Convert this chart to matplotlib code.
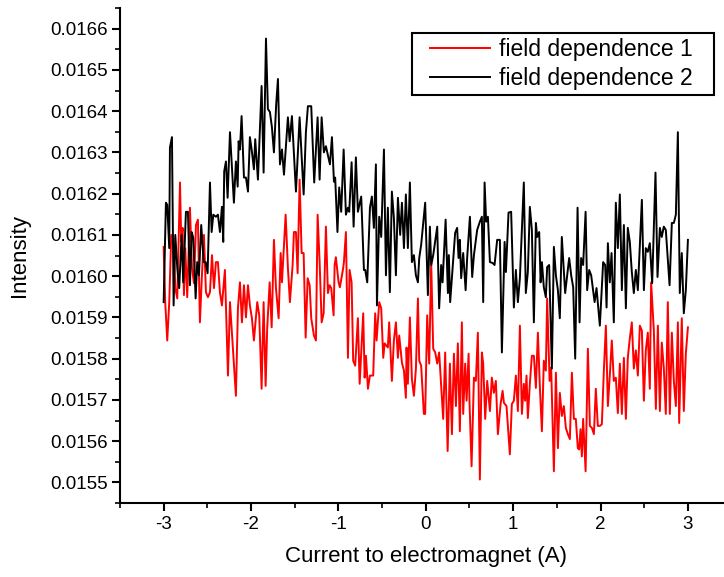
import matplotlib
matplotlib.use('Agg')
import matplotlib.pyplot as plt
import numpy as np
from matplotlib.patches import Rectangle
from matplotlib.ticker import MultipleLocator, FormatStrFormatter

plt.rcParams['font.family'] = ['Liberation Sans', 'DejaVu Sans']
plt.rcParams['axes.unicode_minus'] = False

# current to electromagnet (A) and intensity in units of 1e-4
current_1 = [
    -3.000, -2.982, -2.959, -2.936, -2.913, -2.890, -2.867, -2.844, -2.813, -2.799,
    -2.783, -2.768, -2.753, -2.730, -2.699, -2.676, -2.653, -2.630, -2.608, -2.585,
    -2.562, -2.539, -2.516, -2.493, -2.470, -2.447, -2.424, -2.402, -2.379, -2.356,
    -2.333, -2.299, -2.264, -2.241, -2.173, -2.150, -2.127, -2.104, -2.081, -2.058,
    -2.035, -2.013, -1.990, -1.967, -1.929, -1.906, -1.879, -1.856, -1.833, -1.815,
    -1.787, -1.764, -1.738, -1.715, -1.684, -1.661, -1.646, -1.604, -1.578, -1.555,
    -1.524, -1.509, -1.486, -1.467, -1.444, -1.421, -1.398, -1.375, -1.352, -1.329,
    -1.311, -1.280, -1.257, -1.238, -1.215, -1.192, -1.169, -1.143, -1.120, -1.101,
    -1.082, -1.055, -1.043, -1.029, -0.998, -0.983, -0.945, -0.937, -0.914, -0.891,
    -0.872, -0.849, -0.831, -0.808, -0.777, -0.757, -0.716, -0.700, -0.685, -0.662,
    -0.639, -0.602, -0.579, -0.563, -0.533, -0.510, -0.487, -0.471, -0.434, -0.419,
    -0.388, -0.365, -0.342, -0.319, -0.304, -0.273, -0.250, -0.228, -0.220, -0.205,
    -0.182, -0.159, -0.136, -0.113, -0.090, -0.075, -0.053, -0.022, -0.007, 0.016,
    0.039, 0.062, 0.085, 0.108, 0.131, 0.153, 0.199, 0.222, 0.250, 0.276,
    0.299, 0.322, 0.345, 0.367, 0.390, 0.413, 0.428, 0.451, 0.467, 0.490,
    0.501, 0.524, 0.551, 0.573, 0.596, 0.619, 0.642, 0.657, 0.680, 0.703,
    0.734, 0.756, 0.779, 0.802, 0.825, 0.856, 0.879, 0.894, 0.924, 0.962,
    0.985, 1.008, 1.031, 1.054, 1.077, 1.100, 1.122, 1.137, 1.153, 1.168,
    1.191, 1.214, 1.237, 1.260, 1.283, 1.306, 1.329, 1.351, 1.374, 1.389,
    1.417, 1.435, 1.466, 1.489, 1.512, 1.534, 1.557, 1.580, 1.603, 1.626,
    1.649, 1.672, 1.695, 1.717, 1.740, 1.755, 1.771, 1.786, 1.801, 1.829,
    1.855, 1.878, 1.901, 1.924, 1.946, 1.969, 1.992, 2.015, 2.038, 2.061,
    2.084, 2.106, 2.129, 2.152, 2.175, 2.198, 2.221, 2.244, 2.267, 2.290,
    2.312, 2.335, 2.358, 2.381, 2.404, 2.427, 2.450, 2.473, 2.496, 2.518,
    2.541, 2.564, 2.579, 2.610, 2.633, 2.656, 2.679, 2.701, 2.724, 2.747,
    2.770, 2.793, 2.816, 2.839, 2.862, 2.885, 2.900, 2.930, 2.953, 2.976,
    3.000,
]
intensity_1 = [
    160.71, 159.37, 158.44, 159.37, 161.00, 160.95, 159.71, 159.46, 162.27, 160.83,
    161.17, 159.54, 160.68, 159.49, 161.66, 160.20, 159.83, 161.24, 161.37, 158.88,
    160.02, 161.00, 159.61, 159.49, 159.61, 160.51, 159.71, 160.34, 160.34, 159.61,
    159.29, 160.15, 157.59, 159.37, 157.10, 159.22, 159.85, 158.88, 159.78, 159.00,
    159.78, 159.29, 158.98, 158.44, 159.37, 159.05, 157.27, 159.37, 157.34, 158.73,
    159.85, 158.76, 160.88, 159.71, 158.98, 160.56, 159.85, 161.49, 160.20, 159.37,
    160.27, 161.07, 161.07, 160.07, 162.34, 160.56, 160.56, 158.51, 159.95, 159.78,
    158.98, 158.56, 158.44, 161.49, 160.34, 158.88, 159.10, 161.20, 159.59, 159.78,
    159.71, 159.05, 160.27, 160.46, 159.85, 159.73, 160.20, 160.34, 161.07, 158.02,
    160.15, 159.85, 157.95, 157.83, 158.98, 157.39, 159.10, 157.54, 158.07, 157.27,
    157.59, 157.59, 159.10, 158.44, 159.37, 159.22, 158.02, 158.37, 158.27, 158.88,
    157.46, 158.44, 158.88, 158.02, 158.56, 157.90, 157.71, 157.05, 158.27, 157.39,
    159.00, 157.51, 157.10, 157.76, 159.46, 157.95, 157.83, 156.66, 156.66, 159.05,
    157.88, 160.34, 158.24, 158.15, 157.88, 158.15, 156.54, 158.15, 155.76, 157.88,
    156.17, 158.12, 156.85, 158.37, 156.24, 158.88, 156.66, 157.88, 156.98, 158.12,
    156.90, 155.39, 157.54, 157.46, 158.63, 155.07, 158.15, 157.88, 156.54, 157.46,
    156.73, 157.54, 157.17, 157.46, 156.17, 156.90, 157.22, 156.93, 156.85, 155.68,
    156.90, 156.98, 157.59, 156.73, 158.80, 156.66, 157.39, 156.98, 157.59, 156.56,
    157.39, 158.07, 158.07, 157.29, 158.63, 157.29, 156.24, 157.95, 157.71, 159.46,
    157.46, 157.78, 155.27, 157.66, 155.83, 157.17, 156.61, 156.85, 156.32, 156.17,
    156.05, 157.66, 156.54, 156.54, 155.83, 155.80, 156.29, 155.63, 156.54, 155.27,
    158.24, 156.37, 156.32, 156.17, 157.27, 156.37, 156.37, 156.41, 157.71, 158.80,
    156.85, 157.59, 158.44, 157.46, 157.54, 156.68, 157.88, 156.66, 158.02, 156.54,
    158.02, 158.49, 158.88, 157.76, 158.20, 157.59, 158.80, 158.68, 156.98, 158.20,
    158.63, 157.27, 159.85, 158.68, 156.78, 158.80, 156.73, 158.39, 157.78, 156.66,
    159.37, 156.66, 158.63, 157.46, 156.85, 158.88, 156.44, 158.98, 156.73, 158.12,
    158.76,
]

current_2 = [
    -3.000, -2.974, -2.959, -2.936, -2.928, -2.905, -2.886, -2.867, -2.844, -2.822,
    -2.794, -2.776, -2.745, -2.722, -2.699, -2.680, -2.661, -2.634, -2.616, -2.596,
    -2.570, -2.542, -2.519, -2.497, -2.470, -2.451, -2.432, -2.402, -2.379, -2.356,
    -2.333, -2.318, -2.307, -2.287, -2.268, -2.241, -2.196, -2.173, -2.153, -2.142,
    -2.127, -2.108, -2.081, -2.058, -2.035, -2.013, -1.990, -1.967, -1.952, -1.921,
    -1.879, -1.856, -1.829, -1.807, -1.784, -1.761, -1.738, -1.712, -1.692, -1.669,
    -1.646, -1.623, -1.578, -1.558, -1.532, -1.486, -1.444, -1.398, -1.372, -1.349,
    -1.311, -1.277, -1.238, -1.215, -1.192, -1.166, -1.143, -1.097, -1.074, -1.051,
    -1.037, -1.011, -0.991, -0.968, -0.940, -0.914, -0.891, -0.876, -0.849, -0.826,
    -0.800, -0.777, -0.739, -0.708, -0.693, -0.670, -0.639, -0.617, -0.594, -0.571,
    -0.559, -0.533, -0.510, -0.479, -0.456, -0.434, -0.411, -0.388, -0.365, -0.342,
    -0.319, -0.293, -0.273, -0.250, -0.228, -0.205, -0.182, -0.159, -0.136, -0.113,
    -0.090, -0.075, -0.053, -0.007, 0.024, 0.047, 0.062, 0.085, 0.131, 0.153,
    0.176, 0.192, 0.227, 0.253, 0.264, 0.279, 0.336, 0.359, 0.375, 0.390,
    0.405, 0.428, 0.456, 0.474, 0.505, 0.531, 0.551, 0.588, 0.619, 0.642,
    0.657, 0.673, 0.691, 0.711, 0.734, 0.764, 0.787, 0.817, 0.848, 0.871,
    0.902, 0.917, 0.947, 0.977, 1.008, 1.031, 1.054, 1.077, 1.100, 1.122,
    1.145, 1.168, 1.191, 1.214, 1.237, 1.260, 1.275, 1.298, 1.314, 1.329,
    1.351, 1.374, 1.389, 1.412, 1.443, 1.466, 1.489, 1.512, 1.534, 1.557,
    1.595, 1.641, 1.664, 1.687, 1.710, 1.737, 1.760, 1.778, 1.801, 1.829,
    1.847, 1.870, 1.893, 1.932, 1.954, 1.992, 2.030, 2.053, 2.069, 2.084,
    2.106, 2.126, 2.152, 2.175, 2.198, 2.221, 2.244, 2.267, 2.290, 2.312,
    2.335, 2.358, 2.381, 2.404, 2.427, 2.473, 2.496, 2.518, 2.541, 2.564,
    2.591, 2.629, 2.652, 2.679, 2.701, 2.724, 2.747, 2.790, 2.816, 2.839,
    2.862, 2.885, 2.907, 2.930, 2.953, 2.976, 3.000,
]
intensity_2 = [
    159.37, 161.78, 161.73, 160.68, 163.12, 163.37, 159.29, 161.00, 160.20, 159.71,
    161.00, 159.85, 161.56, 161.56, 159.78, 161.07, 160.93, 159.46, 160.34, 160.02,
    161.24, 160.34, 160.34, 160.07, 162.27, 161.07, 161.49, 161.44, 161.49, 161.07,
    161.68, 160.83, 162.54, 162.78, 161.90, 163.49, 161.78, 162.78, 162.17, 163.27,
    163.07, 163.88, 162.39, 162.39, 162.05, 163.37, 163.02, 162.59, 163.32, 162.34,
    164.61, 162.51, 165.76, 164.05, 163.98, 163.61, 163.00, 164.17, 164.78, 162.71,
    163.07, 162.46, 163.85, 163.27, 163.88, 162.05, 163.85, 161.98, 163.49, 164.12,
    164.12, 162.27, 163.85, 162.34, 163.85, 163.00, 163.15, 162.71, 163.37, 162.29,
    162.39, 161.07, 162.15, 161.56, 163.07, 161.49, 161.66, 161.56, 162.76, 161.20,
    162.88, 161.56, 161.93, 160.15, 160.15, 159.85, 161.66, 161.93, 161.17, 162.71,
    159.29, 161.44, 160.95, 163.07, 160.02, 161.66, 159.61, 162.05, 161.41, 160.02,
    161.90, 161.00, 161.78, 160.68, 161.98, 160.68, 162.27, 160.34, 160.51, 160.02,
    159.85, 160.44, 160.76, 161.78, 159.54, 161.20, 160.27, 160.51, 161.20, 159.22,
    160.27, 159.85, 161.37, 159.59, 160.51, 159.37, 161.05, 161.17, 160.44, 160.88,
    159.95, 160.56, 159.66, 160.46, 161.44, 159.98, 160.51, 161.12, 161.32, 161.44,
    159.37, 162.27, 161.32, 161.44, 160.34, 160.32, 160.27, 160.88, 160.88, 158.15,
    160.83, 160.10, 161.54, 161.56, 159.24, 160.15, 159.37, 159.95, 161.12, 162.27,
    159.59, 160.10, 161.68, 161.12, 158.88, 161.29, 160.95, 161.07, 159.85, 160.34,
    159.73, 159.49, 160.22, 160.27, 157.76, 160.71, 160.02, 159.66, 158.98, 160.95,
    159.59, 160.44, 160.02, 159.73, 158.00, 161.66, 158.88, 160.44, 160.27, 161.56,
    159.66, 160.15, 160.02, 159.37, 159.71, 158.80, 160.34, 160.27, 159.24, 160.80,
    159.85, 160.56, 158.88, 161.78, 160.68, 161.98, 159.66, 161.24, 159.22, 161.17,
    160.83, 160.10, 159.59, 160.15, 159.66, 161.85, 159.66, 160.68, 160.59, 160.80,
    159.83, 162.51, 159.98, 161.17, 160.95, 161.20, 161.12, 159.78, 161.29, 161.29,
    161.49, 163.49, 159.59, 160.56, 159.10, 159.66, 160.88,
]

labels = ['field dependence 1', 'field dependence 2']
colors = ['#ff0000', '#000000']

fig = plt.figure(figsize=(7.24, 5.77), dpi=100)
ax = fig.add_axes([0.1657, 0.1282, 0.8448, 0.8579])

ax.plot(current_1, np.array(intensity_1) * 1e-4, color=colors[0], lw=1.4, label=labels[0])
ax.plot(current_2, np.array(intensity_2) * 1e-4, color=colors[1], lw=1.4, label=labels[1])

ax.set_xlim(-3.5, 3.5)
ax.set_ylim(0.01545, 0.01665)
ax.xaxis.set_major_locator(MultipleLocator(1))
ax.xaxis.set_minor_locator(MultipleLocator(0.5))
ax.yaxis.set_major_locator(MultipleLocator(0.0001))
ax.yaxis.set_minor_locator(MultipleLocator(0.00005))
ax.yaxis.set_major_formatter(FormatStrFormatter('%.4f'))

for side in ['top', 'right']:
    ax.spines[side].set_visible(False)
for side in ['left', 'bottom']:
    ax.spines[side].set_linewidth(1.5)
ax.tick_params(which='major', direction='out', length=6, width=1.5, labelsize=13.5, pad=3)
ax.tick_params(which='minor', direction='out', length=3.5, width=1.2)

ax.set_xlabel('Current to electromagnet (A)', fontsize=16, labelpad=10)
ax.set_ylabel('Intensity', fontsize=16, labelpad=14)

# legend entries without frame, boxed by a wider rectangle
leg = ax.legend(loc='center left', bbox_to_anchor=(0.5069, 0.8869), borderaxespad=0,
                borderpad=0, frameon=False, fontsize=16.5,
                handlelength=2.6, handletextpad=0.4, labelspacing=0.3)
ax.add_patch(Rectangle((0.4774, 0.8242), 0.4938, 0.1253, transform=ax.transAxes,
                       fill=False, edgecolor='black', lw=1.5, zorder=5, clip_on=False))

fig.savefig('out.png', dpi=100)
